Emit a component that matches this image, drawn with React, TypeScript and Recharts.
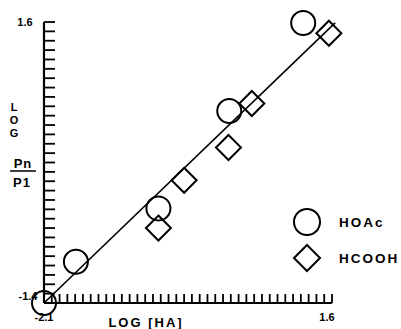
import { ScatterChart, Scatter, XAxis, YAxis, ReferenceLine } from "recharts";

// log[HA] vs log(Pn/P1)
const hoacX = [-2.1, -1.69, -0.63, 0.28, 1.23];
const hoacY = [-1.4, -0.96, -0.39, 0.65, 1.59];
const hcoohX = [-0.63, -0.3, 0.27, 0.57, 1.56];
const hcoohY = [-0.6, -0.09, 0.26, 0.73, 1.48];
const fitX = [-2.1, 1.64];
const fitY = [-1.4, 1.59];

const xDomain = [-2.1, 1.6];
const yDomain = [-1.4, 1.6];
const xLabels = ["-2.1", "1.6"];
const yLabels = ["-1.4", "1.6"];

const xTicks = Array.from({ length: 38 }, (_, i) => +(-2.1 + i * 0.1).toFixed(1));
const yTicks = Array.from({ length: 31 }, (_, i) => +(-1.4 + i * 0.1).toFixed(1));

const hoac = hoacX.map((x, i) => ({ x, y: hoacY[i] }));
const hcooh = hcoohX.map((x, i) => ({ x, y: hcoohY[i] }));
const fit = fitX.map((x, i) => ({ x, y: fitY[i] }));

const FONT = "'Liberation Sans', Arial, sans-serif";
const INK = "#000";

const circleShape = (p: any) => (
  <circle cx={p.cx} cy={p.cy} r={12} fill="none" stroke={INK} strokeWidth={2} />
);
const diamondShape = (p: any) => {
  const s = 12.5;
  return (
    <polygon
      points={`${p.cx},${p.cy - s} ${p.cx + s},${p.cy} ${p.cx},${p.cy + s} ${p.cx - s},${p.cy}`}
      fill="none"
      stroke={INK}
      strokeWidth={2}
    />
  );
};

const xTick = (p: any) => {
  const v = p.payload.value;
  const idx = [+xLabels[0], +xLabels[1]].indexOf(v);
  if (idx < 0) return <g />;
  return (
    <text x={idx === 0 ? p.x : p.x - 5} y={321} textAnchor="middle" fontFamily={FONT} fontWeight="bold" fontSize={11} fill={INK}>
      {xLabels[idx]}
    </text>
  );
};

const yTick = (p: any) => {
  const v = p.payload.value;
  const idx = [+yLabels[0], +yLabels[1]].indexOf(v);
  if (idx < 0) return <g />;
  return (
    <text x={idx === 0 ? 28 : 25} y={idx === 0 ? p.y - 3 : p.y + 4} textAnchor="middle" fontFamily={FONT} fontWeight="bold" fontSize={11} fill={INK}>
      {yLabels[idx]}
    </text>
  );
};

const yTitle = () => (
  <g fontFamily={FONT} fontWeight="bold" fill={INK} textAnchor="middle">
    <text x={14} y={111} fontSize={11}>L</text>
    <text x={14} y={124} fontSize={11}>O</text>
    <text x={14} y={137} fontSize={11}>G</text>
    <text x={23} y={168} fontSize={13} letterSpacing={1}>Pn</text>
    <line x1={10} x2={36} y1={171} y2={171} stroke={INK} strokeWidth={1.5} />
    <text x={22} y={187} fontSize={13} letterSpacing={1}>P1</text>
  </g>
);

const xTitle = () => (
  <text x={146} y={327} textAnchor="middle" fontFamily={FONT} fontWeight="bold" fontSize={13} letterSpacing={2} fill={INK}>
    LOG [HA]
  </text>
);

const legendItems = [
  { name: "HOAc", shape: "circle" },
  { name: "HCOOH", shape: "diamond" },
];

const LegendBox = () => (
  <div style={{ position: "absolute", left: 292, top: 207 }}>
    {legendItems.map((it) => (
      <div key={it.name} style={{ display: "flex", alignItems: "center", height: 30, marginBottom: 6 }}>
        <svg width={30} height={30}>
          {it.shape === "circle" ? (
            <circle cx={15} cy={15} r={13} fill="none" stroke={INK} strokeWidth={2} />
          ) : (
            <polygon points="15,2 28,15 15,28 2,15" fill="none" stroke={INK} strokeWidth={2} />
          )}
        </svg>
        <span style={{ marginLeft: 17, fontFamily: FONT, fontWeight: "bold", fontSize: 13.5, letterSpacing: 2, color: INK }}>
          {it.name}
        </span>
      </div>
    ))}
  </div>
);

export default function App() {
  return (
    <div style={{ position: "absolute", left: 0, top: 0, width: 401, height: 329, background: "#fff" }}>
      <ScatterChart width={401} height={329} margin={{ top: 22, right: 69, bottom: 26, left: 44 }}>
        <XAxis
          type="number"
          dataKey="x"
          domain={xDomain}
          ticks={xTicks}
          interval={0}
          mirror
          tickSize={9}
          tick={xTick}
          axisLine={{ stroke: INK, strokeWidth: 2.2 }}
          tickLine={{ stroke: INK, strokeWidth: 1.8 }}
          label={{ content: xTitle }}
        />
        <YAxis
          type="number"
          dataKey="y"
          domain={yDomain}
          ticks={yTicks}
          interval={0}
          mirror
          tickSize={11}
          tick={yTick}
          axisLine={{ stroke: INK, strokeWidth: 2.2 }}
          tickLine={{ stroke: INK, strokeWidth: 1.8 }}
          label={{ content: yTitle }}
        />
        <ReferenceLine segment={fit} stroke={INK} strokeWidth={1.6} ifOverflow="visible" />
        <Scatter name="HOAc" data={hoac} shape={circleShape} isAnimationActive={false} />
        <Scatter name="HCOOH" data={hcooh} shape={diamondShape} isAnimationActive={false} />
      </ScatterChart>
      <LegendBox />
    </div>
  );
}
